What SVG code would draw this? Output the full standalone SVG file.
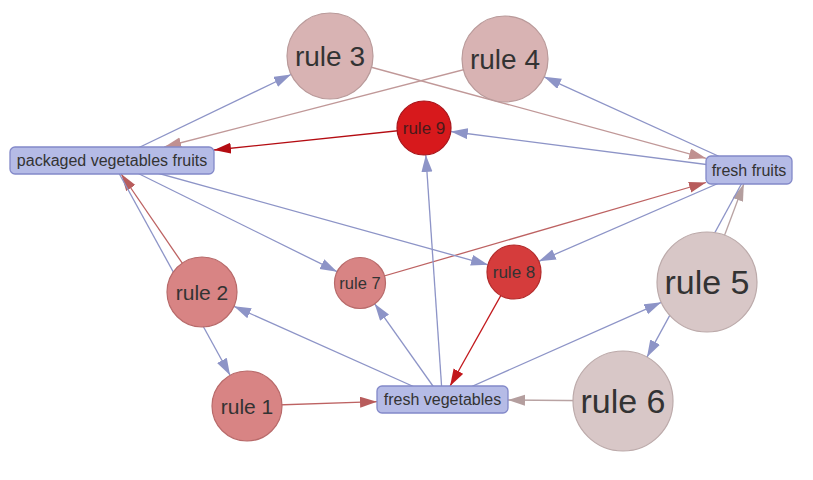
<svg xmlns="http://www.w3.org/2000/svg" width="813" height="480" viewBox="0 0 813 480">
<style>
text{font-family:"Liberation Sans",Arial,sans-serif;fill:#333;text-anchor:middle}
.e{fill:none;stroke-width:1.3}
.b{stroke:#8d94c7}
.br{stroke:#c09898}
.dr{stroke:#b40c12}
.r8{stroke:#c2181c}
.rr{stroke:#bd6262}
.g{stroke:#b9a3a3}
.box{fill:#b5bbe6;stroke:#8389c9;stroke-width:1.3}
</style>
<defs>
<marker id="mb" markerUnits="userSpaceOnUse" markerWidth="18" markerHeight="12" refX="17" refY="5.5" orient="auto"><path d="M0,0L17,5.5L0,11z" fill="#8d94c7"/></marker>
<marker id="mbr" markerUnits="userSpaceOnUse" markerWidth="18" markerHeight="12" refX="17" refY="5.5" orient="auto"><path d="M0,0L17,5.5L0,11z" fill="#c09090"/></marker>
<marker id="mdr" markerUnits="userSpaceOnUse" markerWidth="18" markerHeight="12" refX="17" refY="5.5" orient="auto"><path d="M0,0L17,5.5L0,11z" fill="#b40c12"/></marker>
<marker id="mr8" markerUnits="userSpaceOnUse" markerWidth="18" markerHeight="12" refX="17" refY="5.5" orient="auto"><path d="M0,0L17,5.5L0,11z" fill="#c2181c"/></marker>
<marker id="mrr" markerUnits="userSpaceOnUse" markerWidth="18" markerHeight="12" refX="17" refY="5.5" orient="auto"><path d="M0,0L17,5.5L0,11z" fill="#b85c5c"/></marker>
<marker id="mg" markerUnits="userSpaceOnUse" markerWidth="18" markerHeight="12" refX="17" refY="5.5" orient="auto"><path d="M0,0L17,5.5L0,11z" fill="#b49e9e"/></marker>
</defs>
<g id="edges">
<line class="e b" x1="112" y1="160.5" x2="291" y2="74.5" marker-end="url(#mb)"/>
<line class="e br" x1="505" y1="59" x2="164.3" y2="147" marker-end="url(#mbr)"/>
<line class="e dr" x1="424" y1="128" x2="214" y2="150" marker-end="url(#mdr)"/>
<line class="e br" x1="330" y1="56" x2="706" y2="158.3" marker-end="url(#mbr)"/>
<line class="e b" x1="749" y1="170" x2="544.1" y2="76.8" marker-end="url(#mb)"/>
<line class="e b" x1="749" y1="170" x2="450.8" y2="131.5" marker-end="url(#mb)"/>
<line class="e rr" x1="360" y1="283" x2="706" y2="182.5" marker-end="url(#mrr)"/>
<line class="e b" x1="749" y1="170" x2="538.8" y2="261.3" marker-end="url(#mb)"/>
<line class="e g" x1="707" y1="282" x2="743.8" y2="184" marker-end="url(#mg)"/>
<line class="e b" x1="749" y1="170" x2="647" y2="357.1" marker-end="url(#mb)"/>
<line class="e b" x1="112" y1="160.5" x2="337.1" y2="271.7" marker-end="url(#mb)"/>
<line class="e b" x1="112" y1="160.5" x2="488" y2="264.8" marker-end="url(#mb)"/>
<line class="e rr" x1="202" y1="292" x2="121.2" y2="174" marker-end="url(#mrr)"/>
<line class="e b" x1="112" y1="160.5" x2="230.1" y2="375.3" marker-end="url(#mb)"/>
<line class="e rr" x1="247" y1="406" x2="377" y2="401.7" marker-end="url(#mrr)"/>
<line class="e b" x1="442.5" y1="399.5" x2="234" y2="306.3" marker-end="url(#mb)"/>
<line class="e b" x1="442.5" y1="399.5" x2="374.7" y2="303.8" marker-end="url(#mb)"/>
<line class="e b" x1="442.5" y1="399.5" x2="425.8" y2="154.9" marker-end="url(#mb)"/>
<line class="e r8" x1="514" y1="272" x2="450.1" y2="386" marker-end="url(#mr8)"/>
<line class="e b" x1="442.5" y1="399.5" x2="661.3" y2="302.3" marker-end="url(#mb)"/>
<line class="e g" x1="623" y1="401" x2="508" y2="400" marker-end="url(#mg)"/>
</g>
<g id="packaged">
<rect class="box" x="10" y="147" width="204" height="27" rx="5"/>
<text x="112" y="166" font-size="16">packaged vegetables fruits</text>
</g>
<g id="fresh-fruits">
<rect class="box" x="706" y="156" width="86" height="28" rx="5"/>
<text x="749" y="175.5" font-size="16">fresh fruits</text>
</g>
<g id="fresh-vegetables">
<rect class="box" x="377" y="386" width="131" height="27" rx="5"/>
<text x="442.5" y="405" font-size="16">fresh vegetables</text>
</g>
<g id="rule-1">
<circle cx="247" cy="406" r="35" fill="#d88484" stroke="#b86a6a" stroke-width="1.2"/>
<text x="247" y="413.5" font-size="21">rule 1</text>
</g>
<g id="rule-2">
<circle cx="202" cy="292" r="35" fill="#d88484" stroke="#b86a6a" stroke-width="1.2"/>
<text x="202" y="299.5" font-size="21">rule 2</text>
</g>
<g id="rule-3">
<circle cx="330" cy="56" r="43" fill="#d8b3b3" stroke="#b99a9a" stroke-width="1.2"/>
<text x="330" y="66" font-size="28">rule 3</text>
</g>
<g id="rule-4">
<circle cx="505" cy="59" r="43" fill="#d8b3b3" stroke="#b99a9a" stroke-width="1.2"/>
<text x="505" y="69" font-size="28">rule 4</text>
</g>
<g id="rule-5">
<circle cx="707" cy="282" r="50" fill="#d8c7c7" stroke="#bcaaaa" stroke-width="1.2"/>
<text x="707" y="294" font-size="34">rule 5</text>
</g>
<g id="rule-6">
<circle cx="623" cy="401" r="50" fill="#d8c7c7" stroke="#bcaaaa" stroke-width="1.2"/>
<text x="623" y="413" font-size="34">rule 6</text>
</g>
<g id="rule-7">
<circle cx="360" cy="283" r="25.5" fill="#d88484" stroke="#b86a6a" stroke-width="1.2"/>
<text x="360" y="289" font-size="16.5">rule 7</text>
</g>
<g id="rule-8">
<circle cx="514" cy="272" r="27" fill="#d53c3c" stroke="#b22a2a" stroke-width="1.2"/>
<text x="514" y="278" font-size="17">rule 8</text>
</g>
<g id="rule-9">
<circle cx="424" cy="128" r="27" fill="#d7191c" stroke="#a8141a" stroke-width="1.2"/>
<text x="424" y="134" font-size="17" style="fill:#4a1a1a">rule 9</text>
</g>
</svg>
